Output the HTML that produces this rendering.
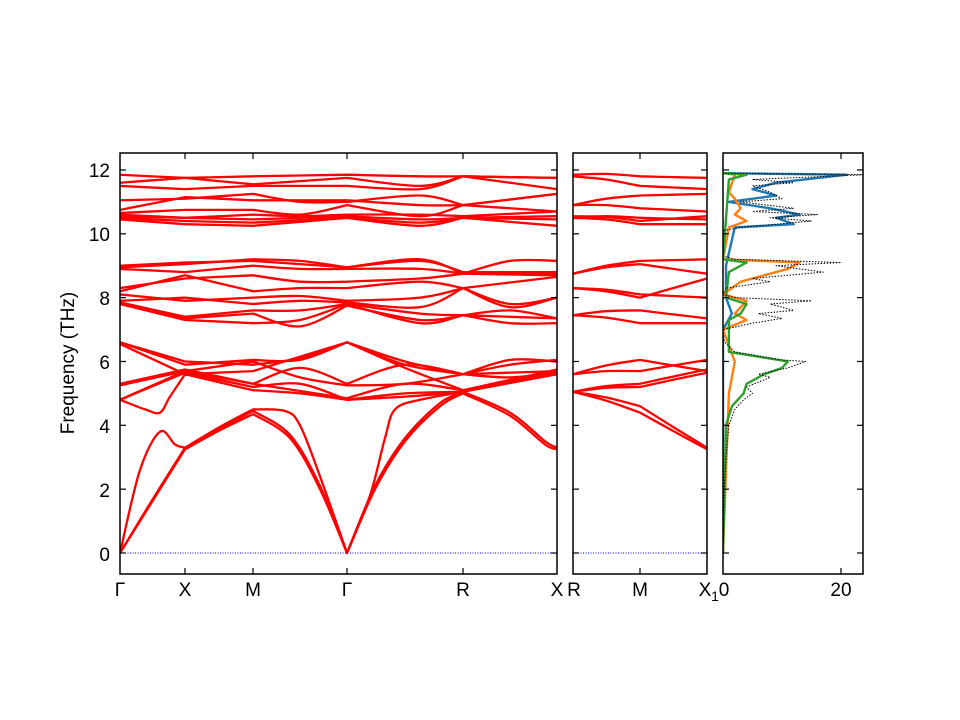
<!DOCTYPE html>
<html><head><meta charset="utf-8"><style>
html,body{margin:0;padding:0;background:#fff;}
svg{display:block;font-family:"Liberation Sans","DejaVu Sans",sans-serif;}
</style></head><body>
<svg id="s" width="960" height="720" xmlns="http://www.w3.org/2000/svg">
<rect width="960" height="720" fill="#fff"/>
<defs>
<clipPath id="c1"><rect x="120" y="153" width="437" height="421"/></clipPath>
<clipPath id="c2"><rect x="573" y="153" width="134" height="421"/></clipPath>
<clipPath id="c3"><rect x="723" y="153" width="140" height="421"/></clipPath>
</defs>
<g id="g1" clip-path="url(#c1)"></g>
<g id="g2" clip-path="url(#c2)"></g>
<g id="g3" clip-path="url(#c3)"></g>
<line x1="120" y1="553" x2="557" y2="553" stroke="#00f" stroke-width="1" stroke-dasharray="1,1.5"/>
<line x1="573" y1="553" x2="707" y2="553" stroke="#00f" stroke-width="1" stroke-dasharray="1,1.5"/>
<g fill="none" stroke="#000" stroke-width="1.5">
<rect x="120" y="153" width="437" height="421"/>
<rect x="573" y="153" width="134" height="421"/>
<rect x="723" y="153" width="140" height="421"/>
</g>
<g id="ticks" stroke="#000" stroke-width="1.2"></g>
<g font-size="19" fill="#000" text-anchor="end">
<text x="110" y="177">12</text><text x="110" y="241">10</text><text x="110" y="305">8</text>
<text x="110" y="369">6</text><text x="110" y="433">4</text><text x="110" y="497">2</text><text x="110" y="561">0</text>
</g>
<g font-size="19" fill="#000" text-anchor="middle">
<text x="120" y="596">Γ</text><text x="185" y="596">X</text><text x="253" y="596">M</text>
<text x="347" y="596">Γ</text><text x="463" y="596">R</text><text x="557" y="596">X</text>
<text x="574" y="596">R</text><text x="640" y="596">M</text><text x="705" y="596">X</text>
<text x="715" y="601" font-size="14">1</text>
<text x="724" y="596">0</text><text x="841" y="596">20</text>
</g>
<text transform="translate(74,363) rotate(-90)" font-size="19" text-anchor="middle">Frequency (THz)</text>
</svg>
<script>
var NS="http://www.w3.org/2000/svg";
var NODES=[120,185,253,347,463,557,573,640,707];
function Y(v){return 553-31.92*v;}
function crSeg(pts){var d="";
for(var i=0;i<pts.length-1;i++){var p0=pts[i-1]||pts[i],p1=pts[i],p2=pts[i+1],p3=pts[i+2]||p2;
var c1x=p1[0]+(p2[0]-p0[0])/6,c1y=p1[1]+(p2[1]-p0[1])/6,c2x=p2[0]-(p3[0]-p1[0])/6,c2y=p2[1]-(p3[1]-p1[1])/6;
d+=" C"+c1x.toFixed(1)+","+c1y.toFixed(1)+" "+c2x.toFixed(1)+","+c2y.toFixed(1)+" "+p2[0].toFixed(1)+","+p2[1].toFixed(1);}
return d;}
function cr(pts){var d="M"+pts[0][0]+","+pts[0][1];var seg=[pts[0]];
for(var i=1;i<pts.length;i++){seg.push(pts[i]);if(NODES.indexOf(pts[i][0])>=0||i==pts.length-1){d+=crSeg(seg);seg=[pts[i]];}}
return d;}
function path(g,d,col,w,dash){var p=document.createElementNS(NS,"path");p.setAttribute("d",d);p.setAttribute("fill","none");
p.setAttribute("stroke",col);p.setAttribute("stroke-width",w);if(dash)p.setAttribute("stroke-dasharray",dash);
p.setAttribute("stroke-linejoin","round");document.getElementById(g).appendChild(p);}
var B1=[
[[120,0],[152,1.6],[185,3.25],[220,3.85],[253,4.35],[290,3.6],[320,2.0],[347,0],[375,2.0],[405,3.5],[440,4.6],[463,5.0],[510,4.3],[545,3.4],[557,3.25]],
[[120,0],[152,1.65],[185,3.3],[220,3.9],[253,4.45],[290,3.7],[320,2.1],[347,0],[375,2.1],[405,3.6],[440,4.7],[463,5.05],[510,4.4],[545,3.5],[557,3.3]],
[[120,0],[140,2.6],[160,3.8],[175,3.4],[185,3.3],[220,3.95],[253,4.5],[285,4.45],[300,4.0],[320,2.4],[347,0],[370,1.8],[385,3.6],[395,4.5],[420,4.8],[463,5.05]],
[[120,4.8],[145,4.5],[160,4.4],[170,4.9],[185,5.6],[253,5.1],[300,5.0],[347,4.8],[405,4.9],[463,5.05],[557,5.6]],
[[120,4.8],[185,5.65],[253,5.2],[300,5.3],[347,4.8],[405,5.0],[463,5.05],[557,5.7]],
[[120,4.8],[185,5.7],[253,5.3],[347,4.85],[405,5.3],[463,5.1],[557,5.75]],
[[120,5.25],[185,5.7],[253,6.0],[300,5.5],[347,5.25],[405,5.3],[463,5.6],[510,5.5],[557,5.65]],
[[120,5.3],[185,5.75],[253,5.3],[300,5.8],[347,5.3],[405,5.9],[463,5.6],[510,5.9],[557,6.05]],
[[120,6.6],[185,5.9],[253,6.05],[300,6.05],[347,6.6],[405,6.0],[463,5.6],[510,6.05],[557,6.0]],
[[120,6.6],[185,6.0],[253,5.9],[300,6.1],[347,6.6],[405,5.9],[463,5.6],[557,5.7]],
[[120,6.55],[185,5.6],[253,5.7],[347,6.6],[405,5.8],[463,5.1],[557,5.6]],
[[120,7.8],[185,7.3],[253,7.2],[300,7.3],[347,7.8],[420,7.2],[463,7.45],[510,7.2],[557,7.2]],
[[120,7.8],[185,7.35],[253,7.5],[300,7.1],[347,7.75],[420,7.3],[463,7.45],[557,7.35]],
[[120,7.85],[185,7.4],[253,7.6],[300,7.6],[347,7.8],[420,7.5],[463,7.45],[510,7.6],[557,7.35]],
[[120,7.9],[185,8.0],[253,7.8],[300,7.9],[347,7.85],[420,7.7],[463,8.3],[510,7.7],[557,8.0]],
[[120,8.1],[185,7.9],[253,8.0],[300,8.05],[347,7.9],[420,8.0],[463,8.3],[557,8.65]],
[[120,8.2],[185,8.7],[253,8.2],[300,8.3],[347,8.3],[420,8.5],[463,8.3],[510,7.8],[557,8.0]],
[[120,8.3],[185,8.6],[253,8.7],[300,8.5],[347,8.5],[420,8.6],[463,8.75],[557,8.75]],
[[120,8.9],[185,8.8],[253,9.0],[300,8.9],[347,8.9],[420,8.9],[463,8.75],[557,8.7]],
[[120,8.95],[185,9.05],[253,9.2],[300,9.15],[347,8.95],[420,9.2],[463,8.75],[510,9.15],[557,9.15]],
[[120,9.0],[185,9.1],[253,9.15],[347,8.95],[420,9.15],[463,8.8],[557,8.8]],
[[120,10.45],[185,10.3],[253,10.25],[347,10.5],[420,10.25],[463,10.5],[557,10.25]],
[[120,10.5],[185,10.4],[253,10.35],[347,10.5],[420,10.35],[463,10.5],[557,10.45]],
[[120,10.55],[185,10.5],[253,10.45],[347,10.55],[420,10.45],[463,10.5],[557,10.55]],
[[120,10.6],[185,10.5],[253,10.6],[300,10.55],[347,10.6],[420,10.6],[463,10.55],[557,10.7]],
[[120,10.65],[185,10.75],[253,10.75],[300,10.6],[347,10.9],[420,10.55],[463,10.9],[557,10.7]],
[[120,10.75],[185,11.15],[253,11.05],[347,11.05],[420,10.9],[463,10.9],[557,11.25]],
[[120,11.05],[185,11.1],[253,11.25],[300,11.0],[347,11.0],[420,11.2],[463,10.9],[557,11.25]],
[[120,11.5],[185,11.4],[253,11.5],[347,11.5],[420,11.4],[463,11.8],[557,11.4]],
[[120,11.6],[185,11.75],[253,11.55],[347,11.75],[420,11.5],[463,11.8],[557,11.75]],
[[120,11.85],[185,11.75],[253,11.8],[347,11.85],[420,11.8],[463,11.8],[557,11.75]]];
B1.forEach(function(b){path("g1",cr(b.map(function(p){return [p[0],Y(p[1])];})),"#f00",2.3);});
var B2=[[11.85,11.8,11.75],[11.8,11.5,11.4],[10.9,11.2,11.25],[10.9,10.8,10.7],[10.55,10.4,10.55],[10.5,10.3,10.3],[10.5,10.5,10.45],
[8.75,9.15,9.2],[8.75,9.05,8.75],[8.3,8.0,8.6],[8.3,8.1,8.0],[7.45,7.6,7.35],[7.45,7.2,7.2],
[5.6,6.05,5.7],[5.6,5.7,6.05],[5.05,5.3,5.75],[5.05,5.2,5.65],[5.05,4.6,3.3],[5.05,4.4,3.25]];
B2.forEach(function(b){path("g2",cr([[573,Y(b[0])],[606,Y((b[0]+b[1])/2+0.05)],[640,Y(b[1])],[673,Y((b[1]+b[2])/2)],[707,Y(b[2])]]),"#f00",2.3);});
function dos(pts,col,w,dash){var d="";pts.forEach(function(p,i){d+=(i?"L":"M")+(723+5.9*p[1]).toFixed(1)+","+Y(p[0]).toFixed(1);});path("g3",d,col,w,dash);}
dos([[0,0],[7,0],[7.5,1.5],[8,0.5],[9,0.5],[10.2,2],[10.3,12],[10.5,9],[10.6,13],[10.8,8],[11.0,1],[11.2,9],[11.4,5],[11.6,9],[11.85,21],[11.9,0]],"#1f77b4",2.4);
dos([[0,0],[5,1],[6,2],[7,0],[7.3,4],[7.5,2],[7.9,4],[8.1,0],[8.5,3],[8.9,11],[9.1,13],[9.2,0],[10.2,1],[10.4,4],[10.6,2],[10.8,3],[11.1,2],[11.3,1],[11.85,2],[11.9,0]],"#ff7f0e",2.4);
dos([[0,0],[4,0.5],[4.6,1.5],[5.0,3.5],[5.3,4],[5.6,7],[5.8,10],[6.0,11],[6.3,1],[7.3,1],[7.5,3],[7.8,4],[8,0.5],[8.8,1],[9.1,4],[9.2,0],[11.7,1],[11.85,4],[11.9,0]],"#2ca02c",2.4);
dos([[0,0],[2,0.2],[3,0.5],[4,1],[4.5,2],[4.8,3.5],[5.0,5],[5.2,4],[5.5,8],[5.6,6],[5.8,11],[6.0,14],[6.05,10],[6.3,2],[6.6,0.3],[6.8,0],[7.0,0],[7.2,5],[7.35,10],[7.5,6],[7.6,12],[7.8,8],[7.9,15],[8.0,2],[8.1,0],[8.3,0.5],[8.5,8],[8.6,5],[8.8,17],[9.0,9],[9.1,20],[9.2,2],[9.3,0],[10.1,0],[10.2,3],[10.4,15],[10.5,8],[10.6,16],[10.7,5],[10.8,12],[11.0,3],[11.1,10],[11.3,8],[11.5,5],[11.6,12],[11.7,5],[11.85,24],[11.9,0]],"#000",1,"1.5,1.5");
var t=document.getElementById("ticks"),s="";
function ln(a,b,c,d){s+='<line x1="'+a+'" y1="'+b+'" x2="'+c+'" y2="'+d+'"/>';}
for(var v=0;v<=12;v+=2){var y=Y(v);[[120,557],[573,707],[723,863]].forEach(function(p){ln(p[0],y,p[0]+6,y);ln(p[1],y,p[1]-6,y);});}
[185,253,347,463,640,841].forEach(function(x){ln(x,153,x,159);ln(x,574,x,568);});
t.innerHTML=s;
</script>
</body></html>
